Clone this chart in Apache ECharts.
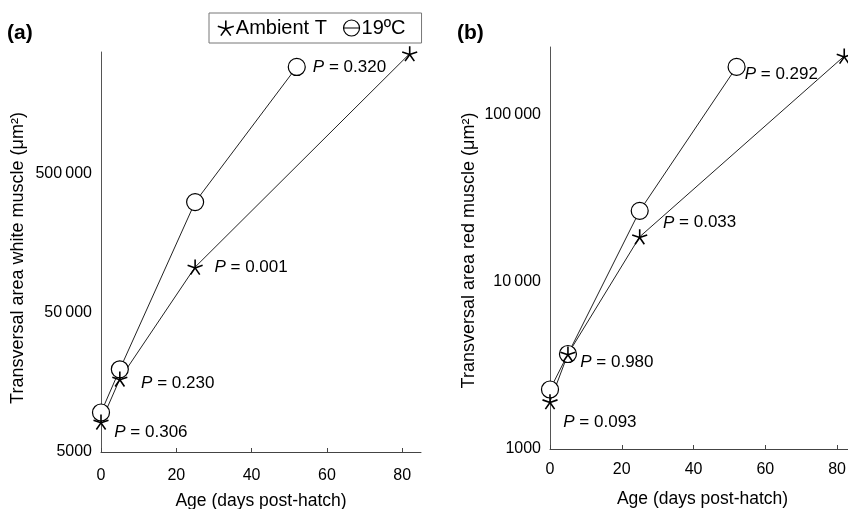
<!DOCTYPE html>
<html>
<head>
<meta charset="utf-8">
<script src="https://cdn.jsdelivr.net/npm/echarts@6/dist/echarts.min.js"></script>
<style>
  html, body { margin: 0; padding: 0; background: #fff; }
  #chart { width: 848px; height: 509px; }
</style>
</head>
<body>
<div id="chart"></div>
<script>
// data
const ageAmbientWhite = [0, 5, 25, 82]
const age19White = [0, 5, 25, 52]
const whiteAmbient = [8200, 16700, 106000, 3600000]
const white19 = [9600, 19600, 310000, 2890000]
const pWhite = ['0.306', '0.230', '0.001', '0.320']

const ageAmbientRed = [0, 5, 25, 82]
const age19Red = [0, 5, 25, 52]
const redAmbient = [1920, 3700, 18600, 224000]
const red19 = [2270, 3700, 26600, 193000]
const pRed = ['0.093', '0.980', '0.033', '0.292']

const ageTicks = [0, 20, 40, 60, 80]
const whiteTicks = [5000, 50000, 500000]
const redTicks = [1000, 10000, 100000]

const FONT = 'Liberation Sans, Arial, Helvetica, sans-serif'
const starPath = 'path://M0,0L0,-10M0,0L9.51,-3.09M0,0L-9.51,-3.09M0,0L5.88,8.09M0,0L-5.88,8.09'
const circleLinePath = 'path://M-10,0A10,10 0 1,0 10,0A10,10 0 1,0 -10,0ZM-10,0L10,0'

// y axes are log scales: value shown as decades above the lowest tick
const toLog = (v, base) => Math.log10(v / base)

function fmtNum (n) {
  const s = String(n)
  if (n < 10000) return s
  return s.replace(/\B(?=(\d{3})+(?!\d))/g, '\u2009')
}

function yLabel (base) {
  return v => {
    if (Math.abs(v - Math.round(v)) > 1e-6) return ''
    return fmtNum(Math.round(base * Math.pow(10, Math.round(v))))
  }
}

// label placement: [dx, dy] from the right edge of the symbol
function pData (ages, vals, base, labels) {
  return ages.map((a, i) => {
    const item = { value: [a, toLog(vals[i], base)] }
    if (labels[i]) {
      item.label = {
        show: true,
        position: 'right',
        distance: 0,
        offset: labels[i].off,
        formatter: '{i|P} = ' + labels[i].text,
        color: '#000',
        fontSize: 17,
        fontFamily: FONT,
        rich: { i: { fontStyle: 'italic', fontSize: 17, fontFamily: FONT, color: '#000' } }
      }
    }
    return item
  })
}

const baseA = whiteTicks[0]
const baseB = redTicks[0]
const maxA = toLog(3700000, baseA)
const maxB = toLog(254000, baseB)

const lineCol = '#222'

function xAxis (idx, margin, gap) {
  return {
    type: 'value', gridIndex: idx, min: 0, max: 85,
    interval: 20,
    name: 'Age (days post-hatch)', nameLocation: 'middle', nameGap: gap,
    nameTextStyle: { fontSize: 17.5, fontFamily: FONT, color: '#000' },
    axisLine: { lineStyle: { color: '#444', width: 1 } },
    axisTick: { show: true, inside: true, length: 4, lineStyle: { color: '#444' }, customValues: ageTicks },
    axisLabel: { fontSize: 16, fontFamily: FONT, color: '#000', margin: margin, customValues: ageTicks },
    splitLine: { show: false }
  }
}

function yAxis (idx, max, base, name, gap, shift) {
  return {
    type: 'value', gridIndex: idx, min: 0, max: max, interval: 1,
    name: name, nameLocation: 'middle', nameGap: gap,
    nameTextStyle: { fontSize: 18, fontFamily: FONT, color: '#000', padding: [0, shift, 0, 0] },
    axisLine: { show: true, lineStyle: { color: '#555', width: 1 } },
    axisTick: { show: false },
    axisLabel: { fontSize: 16, fontFamily: FONT, color: '#000', margin: 9, showMaxLabel: false, formatter: yLabel(base) },
    splitLine: { show: false }
  }
}

const circleStyle = { color: '#fff', borderColor: '#000', borderWidth: 1.2 }
const starStyle = { color: '#000', borderColor: '#000', borderWidth: 1.6 }

const labA19 = [null, null, null, { text: pWhite[3], off: [7, 0] }]
const labAamb = [{ text: pWhite[0], off: [5, 10] }, { text: pWhite[1], off: [13, 4] }, { text: pWhite[2], off: [11, 0] }, null]
const labB19 = [null, null, null, { text: pRed[3], off: [-1, 7] }]
const labBamb = [{ text: pRed[0], off: [5, 21] }, { text: pRed[1], off: [4, 8] }, { text: pRed[2], off: [15, -14] }, null]

const chart = echarts.init(document.getElementById('chart'))
chart.setOption({
  animation: false,
  backgroundColor: '#fff',
  title: [
    { text: '(a)', left: 7, top: 23, padding: 0, textStyle: { fontSize: 21, fontWeight: 'bold', fontFamily: FONT, color: '#000' } },
    { text: '(b)', left: 457, top: 23, padding: 0, textStyle: { fontSize: 21, fontWeight: 'bold', fontFamily: FONT, color: '#000' } }
  ],
  legend: {
    left: 209, top: 13,
    padding: [5, 16, 5, 8],
    borderColor: '#777', borderWidth: 1,
    itemWidth: 16, itemHeight: 16, itemGap: 16,
    textStyle: { fontSize: 20, fontFamily: FONT, color: '#000', padding: [0, 0, 0, -3] },
    data: [
      { name: 'Ambient T', icon: starPath, itemStyle: starStyle },
      { name: '19ºC', icon: circleLinePath, itemStyle: circleStyle }
    ]
  },
  grid: [
    { left: 101, top: 52, width: 320, height: 400, outerBoundsMode: 'none' },
    { left: 550, top: 47, width: 305, height: 402, outerBoundsMode: 'none' }
  ],
  xAxis: [xAxis(0, 16, 40), xAxis(1, 13, 41)],
  yAxis: [
    yAxis(0, maxA, baseA, 'Transversal area white muscle (μm²)', 74, 12),
    yAxis(1, maxB, baseB, 'Transversal area red muscle (μm²)', 72, 5)
  ],
  series: [
    {
      name: '19ºC', type: 'line', xAxisIndex: 0, yAxisIndex: 0,
      symbol: 'circle', symbolSize: 17, itemStyle: circleStyle,
      lineStyle: { color: lineCol, width: 1 },
      data: pData(age19White, white19, baseA, labA19)
    },
    {
      name: 'Ambient T', type: 'line', xAxisIndex: 0, yAxisIndex: 0,
      symbol: starPath, symbolSize: 15, itemStyle: starStyle,
      lineStyle: { color: lineCol, width: 1 },
      data: pData(ageAmbientWhite, whiteAmbient, baseA, labAamb)
    },
    {
      name: '19ºC', type: 'line', xAxisIndex: 1, yAxisIndex: 1,
      symbol: 'circle', symbolSize: 17, itemStyle: circleStyle,
      lineStyle: { color: lineCol, width: 1 },
      data: pData(age19Red, red19, baseB, labB19)
    },
    {
      name: 'Ambient T', type: 'line', xAxisIndex: 1, yAxisIndex: 1,
      symbol: starPath, symbolSize: 15, itemStyle: starStyle,
      lineStyle: { color: lineCol, width: 1 },
      data: pData(ageAmbientRed, redAmbient, baseB, labBamb)
    }
  ]
})
</script>
</body>
</html>
